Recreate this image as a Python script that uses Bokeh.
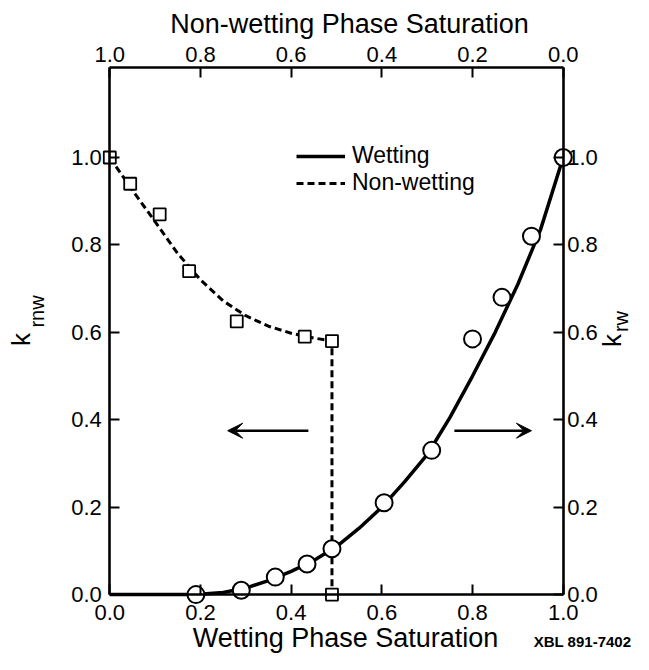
from bokeh.plotting import figure
from bokeh.models import (Range1d, LinearAxis, FixedTicker, PrintfTickFormatter,
                          Label, Arrow, VeeHead, Legend, LegendItem)
from bokeh.embed import file_html
from bokeh.resources import INLINE
import math

# ---------------- data ----------------
x_ticks = [0.0, 0.2, 0.4, 0.6, 0.8, 1.0]
y_ticks = [0.0, 0.2, 0.4, 0.6, 0.8, 1.0]
nw_ticks = [0.0, 0.2, 0.4, 0.6, 0.8, 1.0]

# wetting phase relative permeability (circles, right axis)
wet_sw = [0.19, 0.29, 0.365, 0.435, 0.49, 0.605, 0.71, 0.80, 0.865, 0.93, 1.0]
wet_krw = [0.0, 0.01, 0.04, 0.07, 0.105, 0.21, 0.33, 0.585, 0.68, 0.82, 1.0]

# fitted wetting curve (solid)
wet_curve_sw = [0.0, 0.10, 0.19, 0.25, 0.30, 0.35, 0.40, 0.45, 0.50, 0.55, 0.60,
                0.65, 0.70, 0.75, 0.80, 0.85, 0.90, 0.95, 1.00]
wet_curve_k = [0.0, 0.0, 0.0, 0.005, 0.015, 0.032, 0.053, 0.078, 0.11, 0.152, 0.20,
               0.258, 0.32, 0.405, 0.50, 0.60, 0.71, 0.835, 1.0]

# non-wetting phase relative permeability (squares, left axis)
nw_sw = [0.0, 0.045, 0.11, 0.175, 0.28, 0.43, 0.49, 0.49]
nw_krnw = [1.0, 0.94, 0.87, 0.74, 0.625, 0.59, 0.58, 0.0]

# fitted non-wetting curve (dashed)
nw_curve_sw = [0.0, 0.05, 0.10, 0.15, 0.20, 0.25, 0.30, 0.35, 0.40, 0.45, 0.49, 0.49]
nw_curve_k = [1.0, 0.925, 0.853, 0.78, 0.72, 0.672, 0.638, 0.614, 0.598, 0.587, 0.58, 0.0]

# arrows pointing to the axis each curve belongs to
arrow_left = [0.438, 0.26, 0.375]   # x_start, x_end, y
arrow_right = [0.76, 0.93, 0.375]

# ---------------- layout ----------------
W, H = 633, 654
SX = 453.4          # px per unit of saturation
SY = 437.1          # px per unit of k
X_ZERO_PX = 109.3   # canvas px of x = 0
Y_ZERO_PX = 594.1   # canvas px of y = 0
X_START = -X_ZERO_PX / SX
X_END = X_START + W / SX
Y_START = -(H - Y_ZERO_PX) / SY
Y_END = Y_START + H / SY
BOX_TOP = (Y_ZERO_PX - 67) / SY


def xd(px):
    return X_START + px / SX


def yd(py):
    return Y_END - py / SY


FONT = "Liberation Sans"

p = figure(width=W, height=H, x_range=Range1d(X_START, X_END),
           y_range=Range1d(Y_START, Y_END),
           output_backend="svg", toolbar_location=None,
           x_axis_location=None, y_axis_location=None,
           min_border_left=0, min_border_right=0,
           min_border_top=0, min_border_bottom=0)
p.grid.grid_line_color = None
p.outline_line_color = None
p.background_fill_color = "white"
p.border_fill_color = "white"
p.extra_x_ranges = {"nw": Range1d(1 - X_START, 1 - X_END)}


def style_axis(ax, standoff):
    ax.axis_line_color = "black"
    ax.axis_line_width = 2.6
    ax.major_tick_line_color = "black"
    ax.major_tick_line_width = 2
    ax.major_tick_in = 10
    ax.major_tick_out = 0
    ax.minor_tick_line_color = None
    ax.major_label_text_font = FONT
    ax.major_label_text_font_size = "22px"
    ax.major_label_text_color = "black"
    ax.major_label_standoff = standoff
    ax.formatter = PrintfTickFormatter(format="%.1f")


bottom = LinearAxis(ticker=FixedTicker(ticks=x_ticks), fixed_location=0.0,
                    bounds=(0.0, 1.0))
style_axis(bottom, 10)
p.add_layout(bottom, "below")

top = LinearAxis(x_range_name="nw", ticker=FixedTicker(ticks=nw_ticks),
                 fixed_location=BOX_TOP, bounds=(0.0, 1.0))
style_axis(top, 6)
p.add_layout(top, "above")

left = LinearAxis(ticker=FixedTicker(ticks=y_ticks), fixed_location=0.0,
                  bounds=(0.0, BOX_TOP))
style_axis(left, 8)
p.add_layout(left, "left")

right = LinearAxis(ticker=FixedTicker(ticks=y_ticks), fixed_location=1.0,
                   bounds=(0.0, BOX_TOP))
style_axis(right, 4)
p.add_layout(right, "right")

# curves
wet_line = p.line(wet_curve_sw, wet_curve_k, line_color="black", line_width=3.5)
nw_line = p.line(nw_curve_sw, nw_curve_k, line_color="black", line_width=3,
                 line_dash="7 4")

# markers
p.scatter(nw_sw, nw_krnw, marker="square", size=12, fill_color="white",
          line_color="black", line_width=1.8)
p.scatter(wet_sw, wet_krw, marker="circle", size=17, fill_color="white",
          line_color="black", line_width=2)

# arrows
for xs, xe, yy in (arrow_left, arrow_right):
    p.add_layout(Arrow(end=VeeHead(size=15, fill_color="black", line_color="black"),
                       x_start=xs, y_start=yy, x_end=xe, y_end=yy,
                       line_color="black", line_width=2.5))

# legend
legend = Legend(items=[LegendItem(label="Wetting", renderers=[wet_line]),
                       LegendItem(label="Non-wetting", renderers=[nw_line])],
                location=(296, 458), glyph_width=49, glyph_height=26,
                label_height=26, label_standoff=7, spacing=0, padding=0, margin=0,
                border_line_color=None, background_fill_alpha=0,
                label_text_font=FONT, label_text_font_size="23px",
                label_text_color="black")
p.add_layout(legend, "center")

# titles
p.add_layout(Label(x=xd(349), y=yd(23), text="Non-wetting Phase Saturation",
                   text_align="center", text_baseline="middle", text_font=FONT,
                   text_font_size="27px", text_color="black"))
p.add_layout(Label(x=xd(345), y=yd(637), text="Wetting Phase Saturation",
                   text_align="center", text_baseline="middle", text_font=FONT,
                   text_font_size="27px", text_color="black"))
p.add_layout(Label(x=xd(582), y=yd(641), text="XBL 891-7402",
                   text_align="center", text_baseline="middle", text_font=FONT,
                   text_font_size="15px", text_font_style="bold", text_color="black"))

# rotated y titles with subscripts (centre positions)
for kx, ky, sx_, sy_, sub in ((20, 339, 36, 311, "rnw"), (611, 340, 620, 321, "rw")):
    p.add_layout(Label(x=xd(kx), y=yd(ky), text="k", angle=math.pi / 2,
                       text_align="center", text_baseline="middle", text_font=FONT,
                       text_font_size="26px", text_color="black"))
    p.add_layout(Label(x=xd(sx_), y=yd(sy_), text=sub, angle=math.pi / 2,
                       text_align="center", text_baseline="middle", text_font=FONT,
                       text_font_size="20px", text_color="black"))

open("out.html", "w").write(file_html(p, INLINE))
